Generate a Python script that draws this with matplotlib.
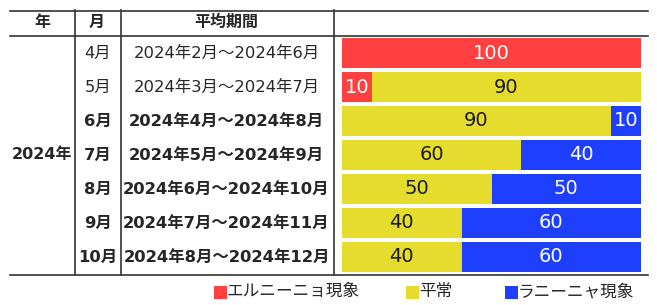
import matplotlib
matplotlib.use("Agg")
import matplotlib.pyplot as plt
import numpy as np

plt.rcParams['font.family'] = ['Noto Sans CJK JP', 'DejaVu Sans']

year_label = "2024年"
months = ["4月", "5月", "6月", "7月", "8月", "9月", "10月"]
periods = ["2024年2月～2024年6月", "2024年3月～2024年7月", "2024年4月～2024年8月",
           "2024年5月～2024年9月", "2024年6月～2024年10月", "2024年7月～2024年11月",
           "2024年8月～2024年12月"]
bold_rows = [False, False, True, True, True, True, True]
el_nino = [100, 10, 0, 0, 0, 0, 0]
normal = [0, 90, 90, 60, 50, 40, 40]
la_nina = [0, 0, 10, 40, 50, 60, 60]
series_names = ["エルニーニョ現象", "平常", "ラニーニャ現象"]
headers = ["年", "月", "平均期間"]

colors = ["#FF4040", "#E6DC2E", "#1F3FFF"]
text_colors = ["white", "#1a1a1a", "white"]

W, H = 657, 305
fig = plt.figure(figsize=(W/100, H/100), dpi=100)

ov = fig.add_axes([0, 0, 1, 1])
ov.set_xlim(0, W)
ov.set_ylim(H, 0)
ov.axis('off')

lc = "#333333"
ov.plot([10, 648], [10.5, 10.5], color=lc, lw=1.2)
ov.plot([10, 648], [35.5, 35.5], color=lc, lw=1.2)
ov.plot([10, 648], [274.5, 274.5], color=lc, lw=1.2)
for x in [74.5, 120.5, 333.5]:
    ov.plot([x, x], [10, 274.5], color=lc, lw=1.2)

tc = "#262626"
mix = ['DejaVu Sans', 'Noto Sans CJK JP']
hx = [42, 97, 226]
for x, h in zip(hx, headers):
    ov.text(x, 22, h, ha='center', va='center', fontsize=11.5, fontweight='bold', color=tc)

row_y = [53 + 34*i for i in range(len(months))]
ov.text(42, row_y[3], year_label, ha='center', va='center', fontsize=11.5, fontweight='bold',
        color=tc, family=mix)
for y, m, p, b in zip(row_y, months, periods, bold_rows):
    fw = 'bold' if b else 'normal'
    ov.text(98, y, m, ha='center', va='center', fontsize=11.8, fontweight=fw, color=tc, family=mix)
    ov.text(226.5, y, p, ha='center', va='center', fontsize=11.8, fontweight=fw, color=tc, family=mix)

bx0, bx1, by0, by1 = 342, 641, 38, 272
ax = fig.add_axes([bx0/W, (H-by1)/H, (bx1-bx0)/W, (by1-by0)/H])
n = len(months)
pos = np.arange(n)
bh = 30/34
ax.set_ylim(n - 0.5 - 2/34, -0.5 + 2/34)
ax.set_xlim(0, 100)
ax.axis('off')
left = np.zeros(n)
for vals, c, tcol in zip([el_nino, normal, la_nina], colors, text_colors):
    vals = np.array(vals, dtype=float)
    ax.barh(pos, vals, left=left, height=bh, color=c, edgecolor='none')
    for i, v in enumerate(vals):
        if v > 0:
            ax.text(left[i] + v/2, pos[i], f"{int(v)}", ha='center', va='center',
                    fontsize=14, color=tcol, family=['DejaVu Sans'])
    left += vals

leg_x = [213.5, 405.5, 504.5]
for x, c, name in zip(leg_x, colors, series_names):
    ov.add_patch(plt.Rectangle((x, 285.5), 13, 13.5, color=c, lw=0))
    ov.text(x + 13.5, 291.5, name, ha='left', va='center', fontsize=12, color=tc)

fig.savefig("out.png", dpi=100)
